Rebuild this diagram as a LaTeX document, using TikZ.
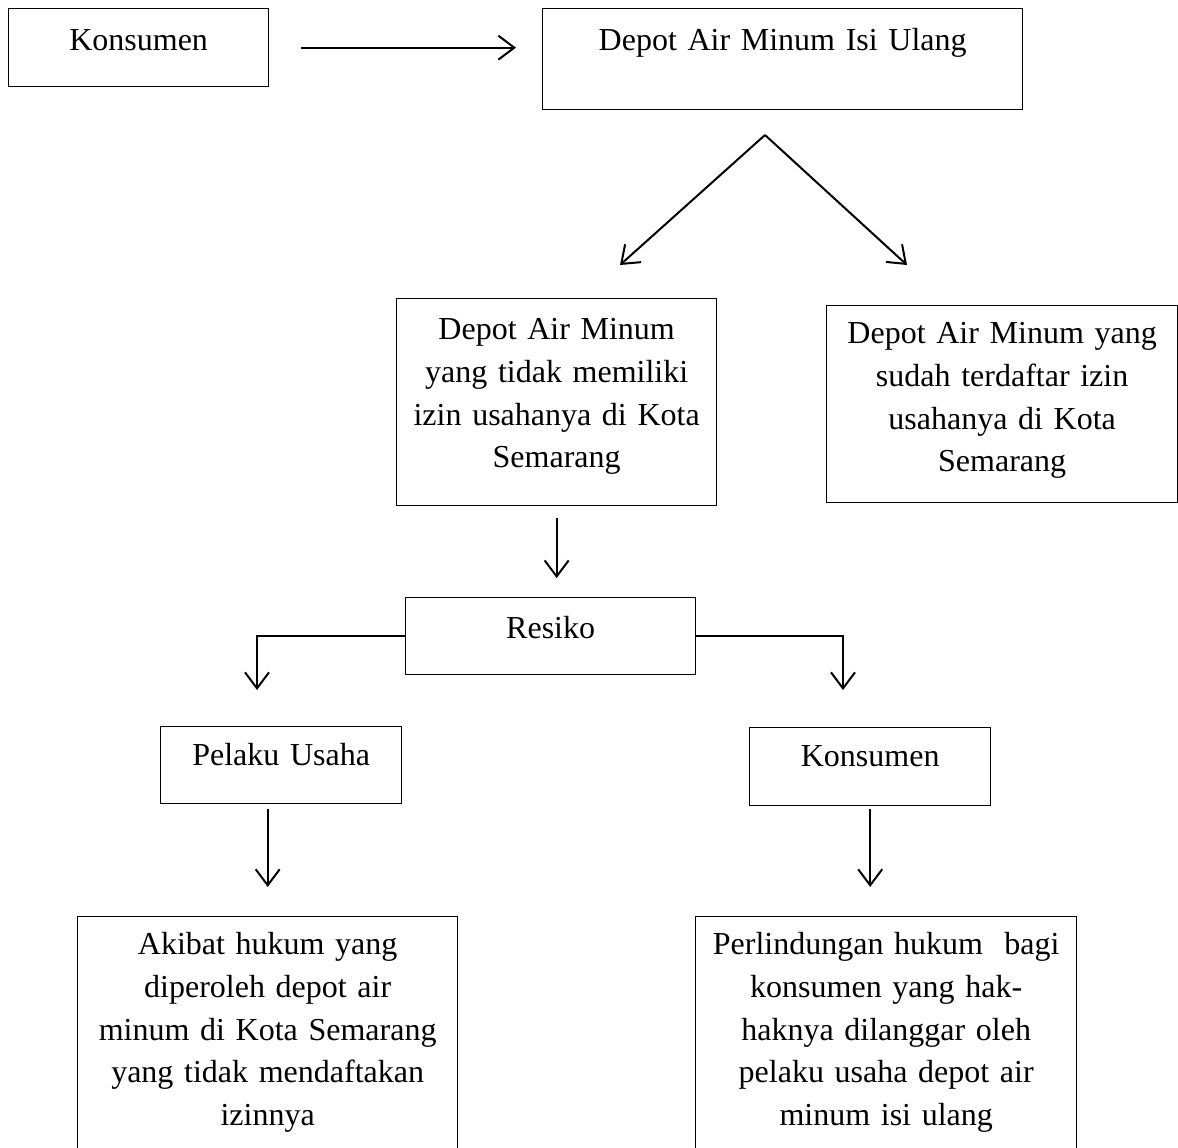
\documentclass[tikz,border=0pt]{standalone}
\usepackage{fontspec}
\setmainfont{Liberation Serif}
\usetikzlibrary{arrows.meta}

\begin{document}
\begin{tikzpicture}[x=0.375pt, y=-0.375pt, thick,
    main/.style = {draw, line width=0.5pt, align=center, inner sep=0pt, anchor=north west,
                   font=\fontsize{12pt}{16pt}\selectfont},
    arr/.style = {-{Straight Barb[length=6pt,width=9pt]}, line width=0.75pt}]
    \useasboundingbox (0,0) rectangle (1178,1147);
    \clip (0,0) rectangle (1178,1147);
    % top row
    \node[main, text width=97.5pt, text height=15.75pt, text depth=13.5pt] (1) at (8,8) {Konsumen};
    \node[main, text width=180pt, text height=15.75pt, text depth=22.1pt] (2) at (542,8) {Depot Air Minum Isi Ulang};
    \draw[arr, shorten <=12pt, shorten >=9.75pt] (1.east) -- (1.east -| 2.west);
    % split
    \coordinate (v) at (765,135);
    \coordinate (v1) at (620,265);
    \coordinate (v2) at (907,265);
    \draw[arr] (v) -- (v1);
    \draw[arr] (v) -- (v2);
    \node[main, text width=120pt, text height=15.4pt, text depth=62.25pt] (3) at (396,298)
        {Depot Air Minum\\yang tidak memiliki\\izin usahanya di Kota\\Semarang};
    \node[main, text width=131.6pt, text height=14.25pt, text depth=59.6pt] (4) at (826,305)
        {Depot Air Minum yang\\sudah terdaftar izin\\usahanya di Kota\\Semarang};
    % resiko
    \node[main, text width=108.75pt, text height=15.4pt, text depth=13.5pt] (5) at (405,597) {Resiko};
    \draw[arr, shorten <=4.5pt, shorten >=7.1pt] (3.south) -- (3.south |- 5.north);
    \coordinate (bl) at (257,690);
    \coordinate (br) at (843,690);
    \draw[arr] (5.west) -| (bl);
    \draw[arr] (5.east) -| (br);
    \node[main, text width=90.4pt, text height=14.6pt, text depth=14.25pt] (6) at (160,726) {Pelaku Usaha};
    \node[main, text width=90.4pt, text height=14.6pt, text depth=14.6pt] (7) at (749,727) {Konsumen};
    % bottom row
    \node[main, text width=142.5pt, text height=14.25pt, text depth=82.5pt] (8) at (77,916)
        {Akibat hukum yang\\diperoleh depot air\\minum di Kota Semarang\\yang tidak mendaftakan\\izinnya};
    \node[main, text width=142.9pt, text height=14.25pt, text depth=82.5pt] (9) at (695,916)
        {Perlindungan hukum~ bagi\\konsumen yang hak-\\haknya dilanggar oleh\\pelaku usaha depot air\\minum isi ulang};
    \draw[arr, shorten <=1.9pt, shorten >=10.9pt] (6.south -| 8.north) -- (8.north);
    \draw[arr, shorten <=1.1pt, shorten >=10.9pt] (7.south) -- (7.south |- 9.north);
\end{tikzpicture}
\end{document}
